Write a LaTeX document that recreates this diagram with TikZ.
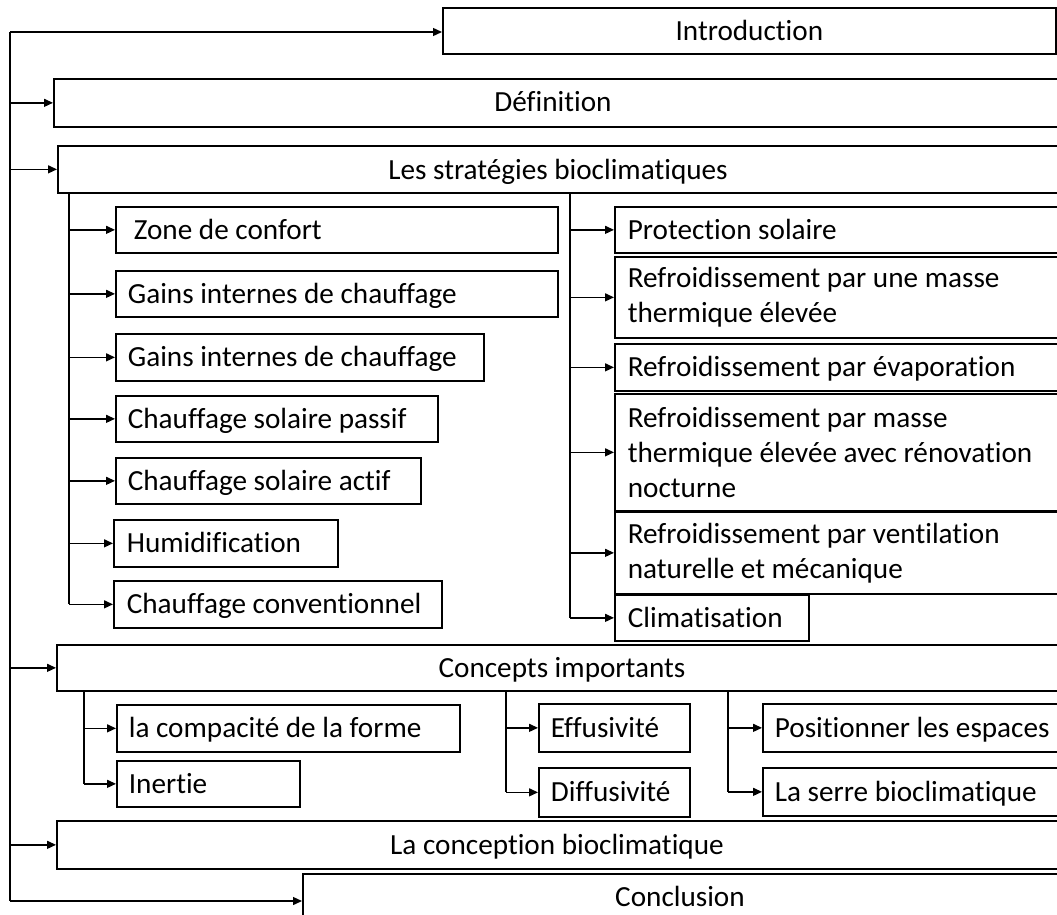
\documentclass[tikz,border=0pt]{standalone}
\usepackage{fontspec}
\setmainfont{Carlito}[Ligatures={NoCommon}]
\usetikzlibrary{arrows.meta}
\newcommand\boxfont{\fontsize{29.2}{35}\selectfont}
\begin{document}
\begin{tikzpicture}[x=1pt,y=-1pt,
  box/.style={draw, line width=1.7pt, rectangle, inner ysep=0pt, anchor=north west, font=\boxfont},
  one/.style={text height=18.5pt, text depth=0pt},
  lb/.style 2 args={box, minimum width=#1, minimum height=#2, inner xsep=12pt, align=flush left},
  lbl/.style={font=\boxfont, inner sep=0pt, text height=18.5pt, text depth=0pt},
  link/.style={line width=1.4pt},
  arr/.style={link, -{Triangle[length=9pt,width=8pt]}}]
\useasboundingbox (0,0) rectangle (1057,915);
\clip (0,0) rectangle (1057,915);

% top-level sections
\node[box, one, minimum width=613pt, minimum height=46pt] (intro) at (442,7) {Introduction};
\node[box, minimum width=1027pt, minimum height=48pt] (def) at (53,78) {};
\node[lbl] (def-t) at (553,102) {Définition};
\node[box, minimum width=1023pt, minimum height=47pt] (strat) at (57,145) {};
\node[lbl] (strat-t) at (558,170) {Les stratégies bioclimatiques};
\node[box, minimum width=1024pt, minimum height=46pt] (conc) at (56,644) {};
\node[lbl] (conc-t) at (562,668) {Concepts importants};
\node[box, minimum width=1024pt, minimum height=48pt] (concep) at (56,820) {};
\node[lbl] (concep-t) at (557,845) {La conception bioclimatique};
\node[box, minimum width=778pt, minimum height=80pt] (concl) at (302,873) {};
\node[lbl] (concl-t) at (680,897) {Conclusion};

% strategies, left column
\node[lb={442pt}{46pt}, one, inner xsep=18pt, text width=406pt] (z1) at (115,206) {Zone de confort};
\node[lb={442pt}{46pt}, one, text width=418pt] (z2) at (115,270) {Gains internes de chauffage};
\node[lb={368pt}{47pt}, one, text width=344pt] (z3) at (115,333) {Gains internes de chauffage};
\node[lb={322pt}{46pt}, one, text width=298pt] (z4) at (115,395) {Chauffage solaire passif};
\node[lb={305pt}{46pt}, one, text width=281pt] (z5) at (115,457) {Chauffage solaire actif};
\node[lb={224pt}{47pt}, one, inner xsep=13pt, text width=198pt] (z6) at (113,519) {Humidification};
\node[lb={328pt}{47pt}, one, inner xsep=13pt, text width=302pt] (z7) at (113,580) {Chauffage conventionnel};

% strategies, right column
\node[lb={478pt}{46pt}, one, inner xsep=13pt, text width=452pt] (r1) at (614,206) {Protection solaire};
\node[lb={478pt}{81pt}, inner xsep=13pt, text width=452pt] (r2) at (614,256) {Refroidissement par une masse\\thermique élevée};
\node[lb={478pt}{47pt}, one, inner xsep=13pt, text width=452pt] (r3) at (614,343) {Refroidissement par évaporation};
\node[lb={478pt}{117pt}, inner xsep=13pt, text width=452pt] (r4) at (614,393) {Refroidissement par masse\\thermique élevée avec rénovation\\nocturne};
\node[lb={478pt}{82pt}, inner xsep=13pt, text width=452pt] (r5) at (614,511) {Refroidissement par ventilation\\naturelle et mécanique};
\node[lb={194pt}{46pt}, one, inner xsep=13pt, text width=168pt] (r6) at (614,594) {Climatisation};

% important concepts
\node[lb={343pt}{47pt}, one, text width=319pt] (c1) at (116,704) {la compacité de la forme};
\node[lb={183pt}{46pt}, one, text width=159pt] (c2) at (116,760) {Inertie};
\node[lb={151pt}{48pt}, one, text width=127pt] (c3) at (538,703) {Effusivité};
\node[lb={151pt}{49pt}, one, text width=127pt] (c4) at (538,767) {Diffusivité};
\node[lb={330pt}{48pt}, one, text width=306pt] (c5) at (762,703) {Positionner les espaces};
\node[lb={330pt}{48pt}, one, text width=306pt] (c6) at (762,767) {La serre bioclimatique};

% main trunk
\coordinate (ttop) at (10,32);
\coordinate (tbot) at (10,901);
\draw[link] (ttop) -- (tbot);
\draw[arr] (ttop) -- (ttop -| intro.west);
\draw[arr] (def.west -| ttop) -- (def.west);
\draw[arr] (strat.west -| ttop) -- (strat.west);
\draw[arr] (conc.west -| ttop) -- (conc.west);
\draw[arr] (concep.west -| ttop) -- (concep.west);
\draw[arr] (tbot) -- (tbot -| concl.west);

% strategy branches
\coordinate (stL) at (69,192);
\coordinate (stR) at (570,192);
\draw[link] (stL) -- (stL |- z7.west);
\foreach \n in {z1,z2,z3,z4,z5,z6,z7}
  \draw[arr] (stL |- \n.west) -- (\n.west);
\draw[link] (stR) -- (stR |- r6.west);
\foreach \n in {r1,r2,r3,r4,r5,r6}
  \draw[arr] (stR |- \n.west) -- (\n.west);

% concept branches
\coordinate (ca) at (84,690);
\coordinate (cb) at (506,690);
\coordinate (cc) at (728,690);
\draw[link] (ca) -- (ca |- c2.west);
\draw[arr] (ca |- c1.west) -- (c1.west);
\draw[arr] (ca |- c2.west) -- (c2.west);
\draw[link] (cb) -- (cb |- c4.west);
\draw[arr] (cb |- c3.west) -- (c3.west);
\draw[arr] (cb |- c4.west) -- (c4.west);
\draw[link] (cc) -- (cc |- c6.west);
\draw[arr] (cc |- c5.west) -- (c5.west);
\draw[arr] (cc |- c6.west) -- (c6.west);
\end{tikzpicture}
\end{document}
